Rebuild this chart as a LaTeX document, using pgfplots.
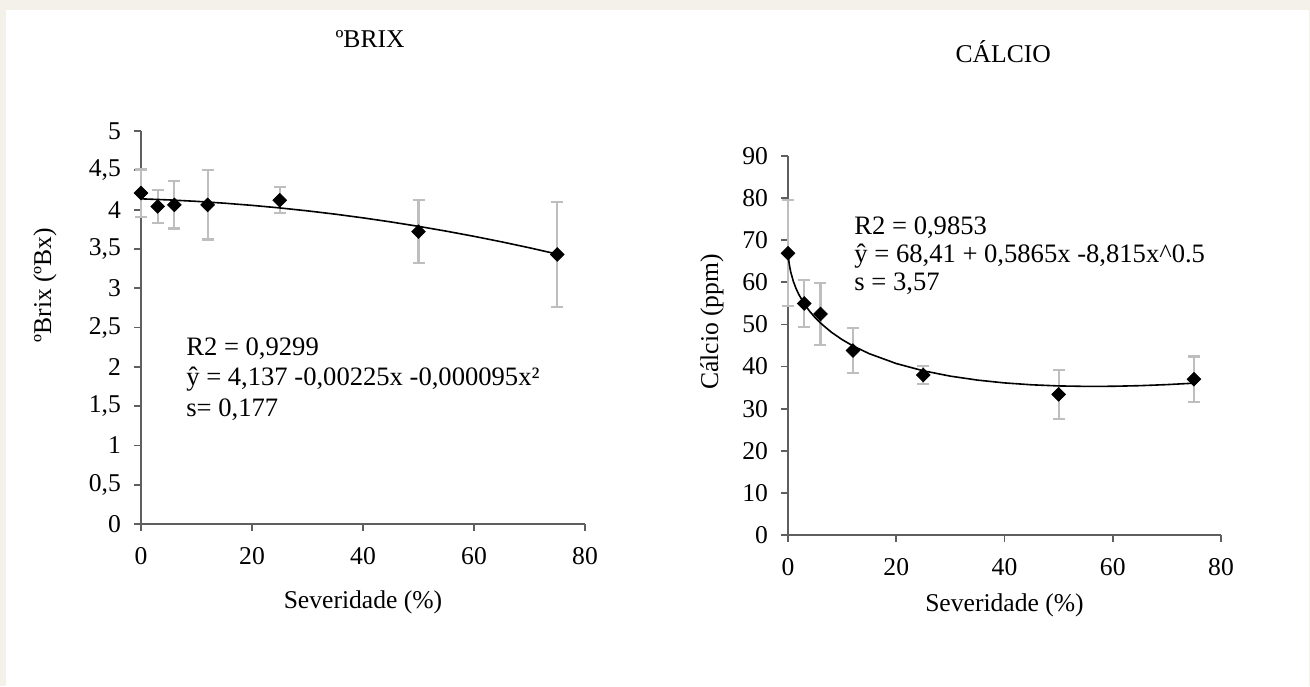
\documentclass[border=0pt]{standalone}
\usepackage{fontspec}
\setmainfont{Liberation Serif}
\usepackage{pgfplots}
\pgfplotsset{compat=1.18}
\definecolor{pagebg}{RGB}{244,241,234}
\definecolor{errgray}{RGB}{190,190,190}
\definecolor{axgray}{RGB}{95,95,95}

\tikzset{note/.style={anchor=base west, inner sep=0pt, font=\fontsize{13.3}{15}\selectfont}}

\pgfplotsset{
  excel/.style={
    scale only axis, clip=false,
    axis lines=left, axis line style={-, axgray, line width=0.9pt},
    tick align=outside, major tick length=3.5pt,
    tick style={axgray, line width=0.9pt},
    xmin=0, xmax=80, xtick={0,20,40,60,80},
    ticklabel style={font=\fontsize{12.8}{15}\selectfont, text=black},
    yticklabel style={xshift=-3pt},
    xticklabel style={yshift=-4.5pt},
    label style={font=\fontsize{12.8}{15}\selectfont},
    title style={font=\fontsize{12.8}{15}\selectfont, anchor=center},
    /pgf/number format/use comma,
    /pgf/number format/1000 sep={},
    /pgf/number format/assume math mode=true,
  },
  errs/.style={draw=none, mark=none, forget plot,
    error bars/.cd, y dir=both, y explicit,
    error bar style={draw=errgray, line width=1.1pt},
    error mark options={draw=errgray, rotate=90, mark size=3pt, line width=1.1pt}},
  pts/.style={only marks, mark=square*, mark size=2.4pt,
    mark options={rotate=45, fill=black, draw=black}},
  fit/.style={black, line width=0.8pt, mark=none},
}

\pgfplotstableread{
x  y     e
0  4.21  0.30
3  4.04  0.21
6  4.06  0.30
12 4.06  0.44
25 4.12  0.165
50 3.72  0.40
75 3.43  0.67
}\brix

\pgfplotstableread{
x  y     e
0  66.9  12.6
3  55.0  5.6
6  52.5  7.3
12 43.8  5.4
25 38.0  2.1
50 33.4  5.8
75 37.0  5.4
}\calcio

\begin{document}
\begin{tikzpicture}
\fill[pagebg] (0pt,0pt) rectangle (655pt,343pt);
\fill[white] (3pt,0pt) rectangle (654.5pt,338pt);

\begin{axis}[excel,
  at={(70.5pt,81pt)}, anchor=south west,
  width=222pt, height=196.5pt,
  ymin=0, ymax=5, ytick={0,0.5,1,1.5,2,2.5,3,3.5,4,4.5,5},
  title={ºBRIX}, title style={at={(axis description cs:0.516,1.204)}},
  xlabel={Severidade (\%)},
  xlabel style={at={(axis description cs:0.5,0)}, anchor=center, yshift=-39pt},
  ylabel={ºBrix (ºBx)},
  ylabel style={at={(axis description cs:0,0.608)}, anchor=center, yshift=48pt},
]
\addplot[errs] table[x=x, y=y, y error=e] {\brix};
\addplot[fit] coordinates {
  (0,4.137) (5,4.1234) (10,4.105) (15,4.0819) (20,4.054) (25,4.0214)
  (30,3.984) (35,3.9419) (40,3.895) (45,3.8434) (50,3.787) (55,3.7259)
  (60,3.66) (65,3.5894) (70,3.514) (75,3.4339)
};
\addplot[pts] table[x=x, y=y] {\brix};
\node[note] at (axis cs:8.1,2.15) {R2 = 0,9299};
\node[note] at (axis cs:8.1,1.756) {ŷ = 4,137 -0,00225x -0,000095x²};
\node[note] at (axis cs:8.1,1.374) {s= 0,177};
\end{axis}

\begin{axis}[excel,
  at={(394pt,75.5pt)}, anchor=south west,
  width=216.5pt, height=189.5pt,
  ymin=0, ymax=90, ytick={0,10,20,30,40,50,60,70,80,90},
  title={CÁLCIO}, title style={at={(axis description cs:0.497,1.245)}},
  xlabel={Severidade (\%)},
  xlabel style={at={(axis description cs:0.5,0)}, anchor=center, yshift=-35pt},
  ylabel={Cálcio (ppm)},
  ylabel style={at={(axis description cs:0,0.562)}, anchor=center, yshift=38pt},
]
\addplot[errs] table[x=x, y=y, y error=e] {\calcio};
\addplot[fit] coordinates {
  (0,68.41) (0.1,65.681) (0.25,64.149) (0.5,62.470) (1,60.182) (1.5,58.494)
  (2,57.117) (3,54.901) (4,53.126) (5,51.631) (6,50.337) (8,48.169)
  (10,46.399) (12,44.912) (15,43.067) (20,40.718) (25,38.998) (30,37.723)
  (35,36.788) (40,36.119) (45,35.670) (50,35.403) (55,35.293) (60,35.319)
  (65,35.464) (70,35.713) (75,36.057)
};
\addplot[pts] table[x=x, y=y] {\calcio};
\node[note] at (axis cs:12.2,71.26) {R2 = 0,9853};
\node[note] at (axis cs:12.2,64.6) {ŷ = 68,41 + 0,5865x -8,815x\^{}0.5};
\node[note] at (axis cs:12.2,57.96) {s = 3,57};
\end{axis}
\end{tikzpicture}
\end{document}
